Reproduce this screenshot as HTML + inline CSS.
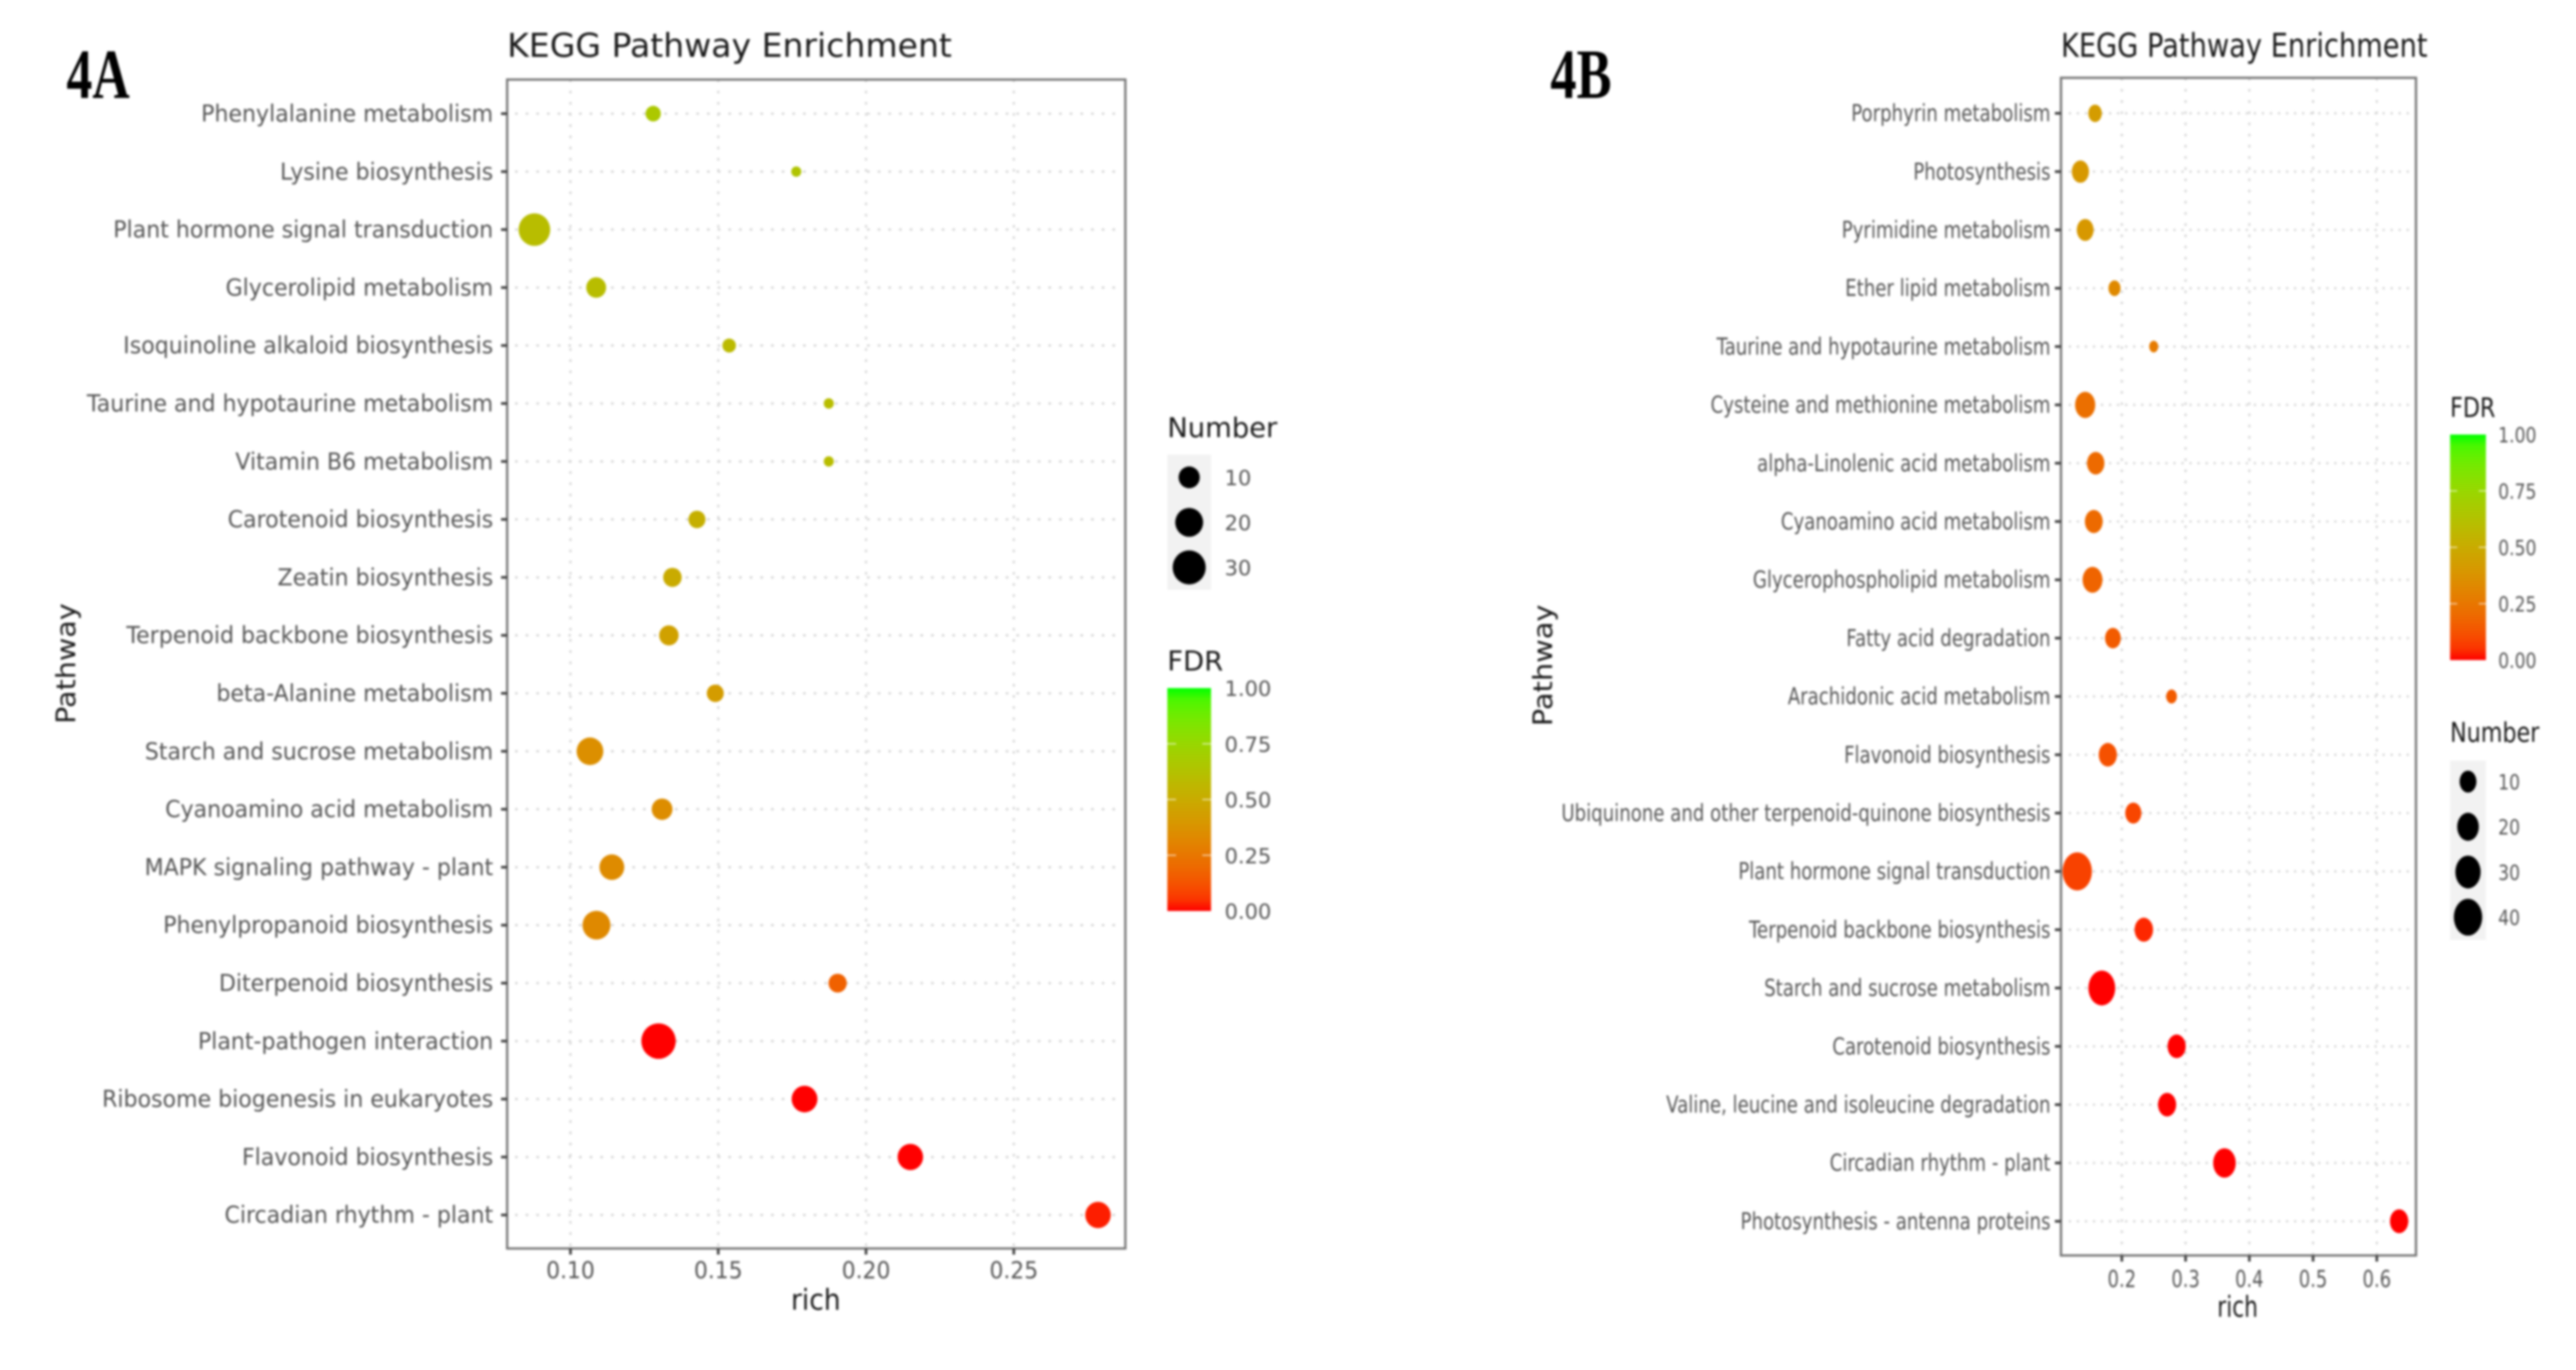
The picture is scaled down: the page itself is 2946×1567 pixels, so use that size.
<!DOCTYPE html>
<html lang="en">
<head>
<meta charset="utf-8">
<title>KEGG Pathway Enrichment</title>
<style>
html,body{margin:0;padding:0;background:#fff;width:2946px;height:1567px;overflow:hidden}
svg{display:block;filter:blur(1.2px)}
text{font-family:"DejaVu Sans","Liberation Sans",sans-serif}
</style>
</head>
<body>
<svg id="figure" xmlns="http://www.w3.org/2000/svg" width="2946" height="1567" viewBox="0 0 2946 1567">
<rect width="2946" height="1567" fill="#fff"/>
<defs>
<linearGradient id="fdrGrad" x1="0" y1="1" x2="0" y2="0"></linearGradient>
</defs>
</svg>
<script>
const pathwaysA = ["Phenylalanine metabolism","Lysine biosynthesis","Plant hormone signal transduction","Glycerolipid metabolism","Isoquinoline alkaloid biosynthesis","Taurine and hypotaurine metabolism","Vitamin B6 metabolism","Carotenoid biosynthesis","Zeatin biosynthesis","Terpenoid backbone biosynthesis","beta-Alanine metabolism","Starch and sucrose metabolism","Cyanoamino acid metabolism","MAPK signaling pathway - plant","Phenylpropanoid biosynthesis","Diterpenoid biosynthesis","Plant-pathogen interaction","Ribosome biogenesis in eukaryotes","Flavonoid biosynthesis","Circadian rhythm - plant"];
const richA = [0.128,0.1764,0.0878,0.1087,0.1537,0.1874,0.1874,0.1428,0.1345,0.1333,0.149,0.1066,0.131,0.114,0.1088,0.1904,0.1298,0.1792,0.215,0.2785];
const numberA = [4,1,27,8.5,2.8,1,1,5.5,7,8,5.5,18,9.5,15,20,6.7,33,16.5,16,16];
const fdrA = [0.66,0.64,0.6,0.6,0.58,0.6,0.6,0.52,0.5,0.45,0.42,0.36,0.35,0.34,0.33,0.17,0,0,0,0.02];
const xTicksA = [0.10,0.15,0.20,0.25];
const xTickLabelsA = ["0.10","0.15","0.20","0.25"];
const sizeLegendA = [10,20,30];

const pathwaysB = ["Porphyrin metabolism","Photosynthesis","Pyrimidine metabolism","Ether lipid metabolism","Taurine and hypotaurine metabolism","Cysteine and methionine metabolism","alpha-Linolenic acid metabolism","Cyanoamino acid metabolism","Glycerophospholipid metabolism","Fatty acid degradation","Arachidonic acid metabolism","Flavonoid biosynthesis","Ubiquinone and other terpenoid-quinone biosynthesis","Plant hormone signal transduction","Terpenoid backbone biosynthesis","Starch and sucrose metabolism","Carotenoid biosynthesis","Valine, leucine and isoleucine degradation","Circadian rhythm - plant","Photosynthesis - antenna proteins"];
const richB = [0.158,0.135,0.1425,0.1885,0.25,0.1425,0.159,0.156,0.154,0.186,0.278,0.178,0.218,0.13,0.2345,0.1686,0.286,0.271,0.361,0.635];
const numberB = [5,10.5,10,3.4,1,16.6,11,11.7,16,8.2,2.2,12.4,8.8,43.7,13,35,12.4,12.4,22.5,12.8];
const fdrB = [0.42,0.4,0.4,0.33,0.27,0.22,0.2,0.2,0.18,0.15,0.15,0.12,0.09,0.08,0.03,0,0,0,0,0];
const xTicksB = [0.2,0.3,0.4,0.5,0.6];
const xTickLabelsB = ["0.2","0.3","0.4","0.5","0.6"];
const sizeLegendB = [10,20,30,40];

const fdrLegendTicks = [1,0.75,0.5,0.25,0];
const fdrLegendLabels = ["1.00","0.75","0.50","0.25","0.00"];

const NS = "http://www.w3.org/2000/svg";
const root = document.getElementById("figure");

function srgb2lin(c){c/=255;return c<=0.04045?c/12.92:Math.pow((c+0.055)/1.055,2.4);}
function lin2srgb(c){c=c<=0.0031308?12.92*c:1.055*Math.pow(c,1/2.4)-0.055;return Math.max(0,Math.min(255,Math.round(c*255)));}
function labOf(r,g,b){
  const R=srgb2lin(r),G=srgb2lin(g),B=srgb2lin(b);
  const X=(0.4124*R+0.3576*G+0.1805*B)/0.95047,Y=0.2126*R+0.7152*G+0.0722*B,Z=(0.0193*R+0.1192*G+0.9505*B)/1.08883;
  const f=t=>t>0.008856?Math.cbrt(t):7.787*t+16/116;
  return [116*f(Y)-16,500*(f(X)-f(Y)),200*(f(Y)-f(Z))];
}
function rgbOfLab(L,a,b){
  const fy=(L+16)/116,fx=fy+a/500,fz=fy-b/200;
  const g=t=>t*t*t>0.008856?t*t*t:(t-16/116)/7.787;
  const X=g(fx)*0.95047,Y=g(fy),Z=g(fz)*1.08883;
  const R=3.2406*X-1.5372*Y-0.4986*Z,G=-0.9689*X+1.8758*Y+0.0415*Z,B=0.0557*X-0.204*Y+1.057*Z;
  return "rgb("+lin2srgb(R)+","+lin2srgb(G)+","+lin2srgb(B)+")";
}
const labLow=labOf(255,0,0), labHigh=labOf(0,255,0);
function fdrColor(v){
  return rgbOfLab(labLow[0]+(labHigh[0]-labLow[0])*v,labLow[1]+(labHigh[1]-labLow[1])*v,labLow[2]+(labHigh[2]-labLow[2])*v);
}

function shape(tag,attrs,name,parent){
  const el=document.createElementNS(NS,tag);
  for(const k in attrs){el.setAttribute(k,attrs[k]);}
  
  
  (parent||root).appendChild(el);
  return el;
}
function label(x,y,str,o,name,parent){
  const el=document.createElementNS(NS,"text");
  const sx=o.sx||1, sy=o.sy||1, rot=o.rot?" rotate("+o.rot+")":"";
  el.setAttribute("transform","translate("+x+","+y+")"+rot+" scale("+sx+","+sy+")");
  el.setAttribute("font-size",o.size);
  el.setAttribute("fill",o.fill||"#555555");
  el.setAttribute("text-anchor",o.anchor||"start");
  if(o.family){el.style.fontFamily=o.family;}
  if(o.weight){el.setAttribute("font-weight",o.weight);}
  el.textContent=str;
  
  
  (parent||root).appendChild(el);
  return el;
}
function slug(s){return s.toLowerCase().replace(/[^a-z0-9]+/g,"-").replace(/^-|-$/g,"");}

function drawPanel(p){
  const g=shape("g",{},p.id+"-chart");
  const xPos=v=>p.x0+(v-p.v0)*p.xUnit;
  const yPos=i=>p.y0+i*p.yStep;
  const radius=n=>(p.dA+p.dB*Math.sqrt(n))/2;
  // title
  label(p.left+p.titleDx,p.titleY,"KEGG Pathway Enrichment",{size:37,sx:p.titleSx,fill:"#1a1a1a"},p.id+"-title",g);
  // grid
  p.ticks.forEach((t)=>{
    const x=xPos(t);
    shape("line",{x1:x,x2:x,y1:p.top,y2:p.bottom,stroke:"#d6d6d6","stroke-width":2.4,"stroke-dasharray":"3 9.8"},p.id+"-gridline-x",g);
  });
  p.names.forEach((n,i)=>{
    const y=yPos(i);
    shape("line",{x1:p.left+9,x2:p.right-6,y1:y,y2:y,stroke:"#d6d6d6","stroke-width":2.6,"stroke-dasharray":p.hDash},p.id+"-gridline-y",g);
  });
  // border
  shape("rect",{x:p.left,y:p.top,width:p.right-p.left,height:p.bottom-p.top,fill:"none",stroke:"#757575","stroke-width":2.6},p.id+"-panel-border",g);
  // y axis
  p.names.forEach((n,i)=>{
    const y=yPos(i);
    shape("line",{x1:p.left-7,x2:p.left,y1:y,y2:y,stroke:"#404040","stroke-width":3},p.id+"-y-tick",g);
    label(p.labelX,y+9,n,{size:25,sx:p.textSx,sy:p.textSy,anchor:"end"},p.id+"-y-label-"+slug(n),g);
  });
  // x axis
  p.ticks.forEach((t,i)=>{
    const x=xPos(t);
    shape("line",{x1:x,x2:x,y1:p.bottom,y2:p.bottom+7,stroke:"#404040","stroke-width":3},p.id+"-x-tick",g);
    label(x,p.xLabelY,p.tickLabels[i],{size:25,sx:p.tickSx,sy:1.08,anchor:"middle"},p.id+"-x-label",g);
  });
  label(p.richX,p.richY,"rich",{size:31,sx:p.richSx,sy:1.05,anchor:"middle",fill:"#1a1a1a"},p.id+"-x-axis-title",g);
  label(p.pathX,p.pathY,"Pathway",{size:30,sx:p.pathSx,rot:-90,anchor:"middle",fill:"#1a1a1a"},p.id+"-y-axis-title",g);
  // points
  p.names.forEach((n,i)=>{
    const r=radius(p.numbers[i]);
    shape("ellipse",{cx:xPos(p.rich[i]),cy:yPos(i),rx:r*p.aspect,ry:r,fill:fdrColor(p.fdr[i])},p.id+"-point-"+slug(n),g);
  });
  // size legend
  label(p.legX,p.numTitleY,"Number",{size:31,sx:p.legSx,fill:"#1a1a1a"},p.id+"-size-legend-title",g);
  shape("rect",{x:p.legX,y:p.keyTop,width:p.legW,height:p.keyH,fill:"#f2f2f2"},p.id+"-size-legend-background",g);
  p.sizeKeys.forEach((k,i)=>{
    const y=p.keyY0+i*p.keyStep, r=radius(k);
    shape("ellipse",{cx:p.legX+p.legW/2,cy:y,rx:r*p.aspect,ry:r,fill:"#000"},p.id+"-size-legend-key-"+k,g);
    label(p.legLabelX,y+9,String(k),{size:24,sx:p.legLabelSx},p.id+"-size-legend-label-"+k,g);
  });
  // colour legend
  label(p.legX,p.fdrTitleY,"FDR",{size:31,sx:p.legSx,fill:"#1a1a1a"},p.id+"-colorbar-title",g);
  shape("rect",{x:p.legX,y:p.barTop,width:p.legW,height:p.barBottom-p.barTop,fill:"url(#fdrGrad)"},p.id+"-colorbar",g);
  const barY=v=>p.barBottom-(p.barBottom-p.barTop)*v;
  fdrLegendTicks.forEach((t,i)=>{
    const y=barY(t);
    if(t>0&&t<1){
      shape("line",{x1:p.legX,x2:p.legX+p.legW/5,y1:y,y2:y,stroke:"#fff","stroke-opacity":0.6,"stroke-width":1.6},p.id+"-colorbar-tick-left",g);
      shape("line",{x1:p.legX+p.legW*4/5,x2:p.legX+p.legW,y1:y,y2:y,stroke:"#fff","stroke-opacity":0.6,"stroke-width":1.6},p.id+"-colorbar-tick-right",g);
    }
    label(p.legLabelX,y+9,fdrLegendLabels[i],{size:24,sx:p.legLabelSx},p.id+"-colorbar-label-"+fdrLegendLabels[i].replace(".","-"),g);
  });
}

const grad=document.getElementById("fdrGrad");
for(let i=0;i<=20;i++){
  const st=document.createElementNS(NS,"stop");
  st.setAttribute("offset",(i*5)+"%");
  st.setAttribute("stop-color",fdrColor(i/20));
  grad.appendChild(st);
}

label(76,112,"4A",{size:80,sx:0.74,fill:"#000",weight:"bold",family:'"Liberation Serif",serif'},"panel-label-4a");
label(1773,112,"4B",{size:80,sx:0.75,fill:"#000",weight:"bold",family:'"Liberation Serif",serif'},"panel-label-4b");

drawPanel({id:"panel-a",names:pathwaysA,rich:richA,numbers:numberA,fdr:fdrA,ticks:xTicksA,tickLabels:xTickLabelsA,sizeKeys:sizeLegendA,
  left:580,right:1287,top:91,bottom:1428,x0:652.4,v0:0.10,xUnit:3380,y0:130,yStep:66.3,
  dA:5.87,dB:6.05,aspect:0.97,hDash:"3 9.2",
  titleDx:0,titleY:65,titleSx:1.023,labelX:564,textSx:1.01,textSy:1.05,tickSx:1,xLabelY:1462,
  richX:933,richY:1498,richSx:0.98,pathX:86,pathY:759,pathSx:1.09,
  legX:1335,legW:50,legSx:1.01,legLabelX:1400.5,legLabelSx:1,
  numTitleY:500,keyTop:520,keyH:154.6,keyY0:546,keyStep:51.5,
  fdrTitleY:767,barTop:787,barBottom:1042});

drawPanel({id:"panel-b",names:pathwaysB,rich:richB,numbers:numberB,fdr:fdrB,ticks:xTicksB,tickLabels:xTickLabelsB,sizeKeys:sizeLegendB,
  left:2357,right:2763,top:89,bottom:1436,x0:2426.6,v0:0.2,xUnit:729,y0:129.6,yStep:66.7,
  dA:8,dB:5.4,aspect:0.77,hDash:"2.4 6.8",
  titleDx:0,titleY:65,titleSx:0.843,labelX:2345,textSx:0.83,textSy:1.05,tickSx:0.82,xLabelY:1472,
  richX:2559,richY:1506,richSx:0.8,pathX:1775,pathY:761,pathSx:1.1,
  legX:2802,legW:41,legSx:0.82,legLabelX:2857,legLabelSx:0.82,
  numTitleY:848.5,keyTop:870,keyH:205,keyY0:894,keyStep:51.7,
  fdrTitleY:477,barTop:497,barBottom:755});
</script>
</body>
</html>
